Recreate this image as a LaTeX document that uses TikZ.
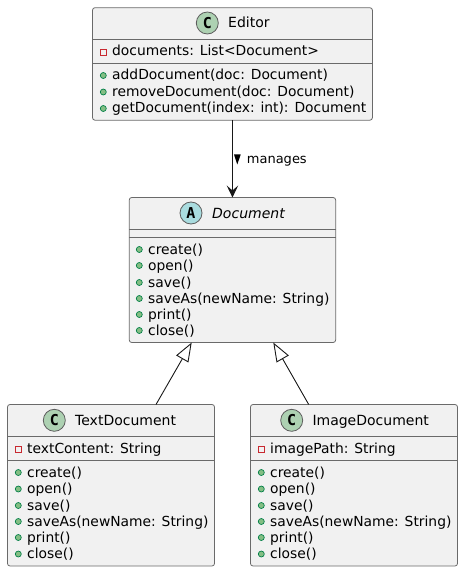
\documentclass[tikz,border=0pt]{standalone}
\usepackage{fontspec}
\setmainfont{DejaVu Sans}
\newfontfamily\spotfont{DejaVu Sans Mono}
\usetikzlibrary{calc,arrows.meta}
\definecolor{boxfill}{HTML}{F1F1F1}
\definecolor{boxline}{HTML}{6A6A6A}
\definecolor{linkline}{HTML}{181818}
\definecolor{spotc}{HTML}{ADD1B2}
\definecolor{spota}{HTML}{A9DCDF}
\definecolor{pubfill}{HTML}{84BE84}
\definecolor{publine}{HTML}{038048}
\definecolor{privline}{HTML}{C82930}
\tikzset{
  umlbox/.style={draw=boxline,line width=.8pt,fill=boxfill,rounded corners=2.5pt,anchor=north west,inner sep=0pt,outer sep=0pt},
  divider/.style={draw=boxline,line width=.8pt},
  spot/.style={circle,draw=linkline!70,line width=.8pt,minimum size=22pt,inner sep=0pt,font=\fontsize{15}{15}\selectfont\spotfont\bfseries},
  title/.style={anchor=base west,inner sep=0pt,font=\fontsize{14}{17}\selectfont},
  member/.style={anchor=base west,inner sep=0pt,font=\fontsize{13.85}{17}\selectfont},
  pub/.style={circle,draw=publine,fill=pubfill,line width=.7pt,minimum size=6pt,inner sep=0pt},
  priv/.style={rectangle,draw=privline,line width=.8pt,minimum size=6pt,inner sep=0pt},
  link/.style={draw=linkline,line width=.9pt},
  inherit/.style={link,{Triangle[open,length=19pt,width=14pt,fill=none]}-},
  manage/.style={link,-{Stealth[length=12pt,width=11.5pt,inset=5pt,fill=linkline]}},
  edgelabel/.style={anchor=base west,inner sep=0pt,font=\fontsize{13}{15}\selectfont}
}
\begin{document}
\begin{tikzpicture}[x=1pt,y=-1pt]
\useasboundingbox (0,0) rectangle (463,572);
% boxes
\node[umlbox,minimum width=279.9pt,minimum height=112.5pt] (editor) at (92.5,7.7) {};
\node[umlbox,minimum width=206.4pt,minimum height=145pt] (doc) at (129.25,197.5) {};
\node[umlbox,minimum width=207pt,minimum height=161.5pt] (text) at (7.5,404.5) {};
\node[umlbox,minimum width=207pt,minimum height=161.5pt] (image) at (250.5,404.5) {};
% dividers
\coordinate (e1) at (92.5,39.5); \coordinate (e2) at (92.5,63);
\draw[divider] (e1) -- (e1 -| editor.east);
\draw[divider] (e2) -- (e2 -| editor.east);
\coordinate (d1) at (129.25,229.5); \coordinate (d2) at (129.25,237.5);
\draw[divider] (d1) -- (d1 -| doc.east);
\draw[divider] (d2) -- (d2 -| doc.east);
\coordinate (t1) at (7.5,436.5); \coordinate (t2) at (7.5,460.5);
\draw[divider] (t1) -- (t1 -| text.east);
\draw[divider] (t2) -- (t2 -| text.east);
\coordinate (i1) at (250.5,436.5); \coordinate (i2) at (250.5,460.5);
\draw[divider] (i1) -- (i1 -| image.east);
\draw[divider] (i2) -- (i2 -| image.east);
% headers
\node[spot,fill=spotc] (editorspot) at (207.3,23) {C};
\node[title] (editortitle) at (228,28) {Editor};
\node[spot,fill=spota] (docspot) at (191,213) {A};
\node[title,font=\fontsize{14}{17}\selectfont\itshape] (doctitle) at (212,218) {Document};
\node[spot,fill=spotc] (textspot) at (54.3,420.3) {C};
\node[title] (texttitle) at (75,425) {TextDocument};
\node[spot,fill=spotc] (imagespot) at (291.7,420.3) {C};
\node[title] (imagetitle) at (312.3,425) {ImageDocument};
% Editor members
\node[priv] (ea0) at (103.3,52) {};
\node[member] (ea) at (112,56) {documents: List<Document>};
\foreach \n/\y/\s in {1/80/addDocument(doc: Document),2/96.5/removeDocument(doc: Document),3/113/getDocument(index: int): Document}{
  \node[pub] (em\n dot) at (103.3,\y-4.5) {};
  \node[member] (em\n) at (112,\y) {\s};
}
% Document members
\foreach \n/\y/\s in {1/254/create(),2/270/open(),3/287/save(),4/303/saveAs(newName: String),5/319/print(),6/335/close()}{
  \node[pub] (dm\n dot) at (139.3,\y-4.5) {};
  \node[member] (dm\n) at (148,\y) {\s};
}
% TextDocument members
\node[priv] (ta0) at (18.3,449) {};
\node[member] (ta) at (27,453) {textContent: String};
\foreach \n/\y/\s in {1/477/create(),2/493.5/open(),3/510/save(),4/526/saveAs(newName: String),5/542/print(),6/558.5/close()}{
  \node[pub] (tm\n dot) at (18.3,\y-4.5) {};
  \node[member] (tm\n) at (27,\y) {\s};
}
% ImageDocument members
\node[priv] (ia0) at (261.3,449) {};
\node[member] (ia) at (270,453) {imagePath: String};
\foreach \n/\y/\s in {1/477/create(),2/493.5/open(),3/510/save(),4/526/saveAs(newName: String),5/542/print(),6/558.5/close()}{
  \node[pub] (im\n dot) at (261.3,\y-4.5) {};
  \node[member] (im\n) at (270,\y) {\s};
}
% connectors
\draw[manage] (editor.south) -- (doc.north);
\draw[inherit] ([xshift=-40.75pt]doc.south) -- ([xshift=45pt]text.north);
\draw[inherit] ([xshift=40.85pt]doc.south) -- ([xshift=-45.3pt]image.north);
% connector label
\node[edgelabel] (managelabel) at (246.7,163.5) {manages};
\fill[black] (234,154.5) -- (240.7,154.5) -- (237.3,164.5) -- cycle;
\end{tikzpicture}
\end{document}
